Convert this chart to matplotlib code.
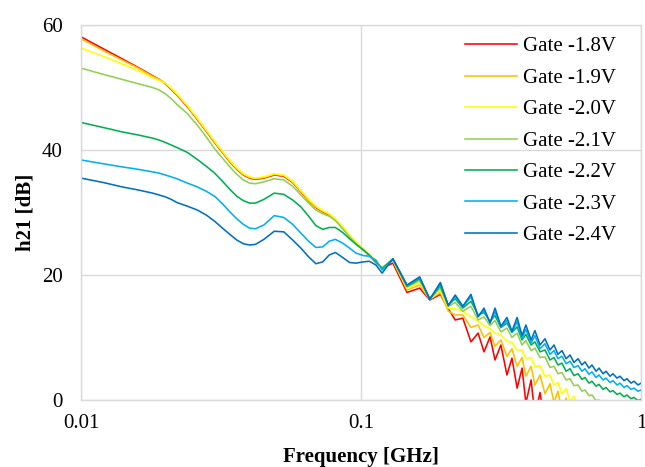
import numpy as np
import matplotlib
matplotlib.use("Agg")
import matplotlib.pyplot as plt

plt.rcParams['font.family'] = ['Liberation Serif', 'DejaVu Serif']

# frequency points [GHz]
freq_ghz = [0.010, 0.012, 0.014, 0.016, 0.018, 0.019, 0.020, 0.021, 0.022, 0.024,
            0.026, 0.028, 0.030, 0.032, 0.034, 0.036, 0.038, 0.040, 0.042, 0.045,
            0.049, 0.053, 0.057, 0.061, 0.065, 0.069, 0.073, 0.077, 0.081, 0.086,
            0.091, 0.096, 0.102, 0.107, 0.113, 0.119,
            0.130, 0.146, 0.162, 0.176, 0.192, 0.205, 0.217, 0.231, 0.247, 0.262,
            0.275, 0.289, 0.301, 0.316, 0.332, 0.346, 0.361, 0.376, 0.388, 0.405,
            0.418, 0.436, 0.454, 0.473, 0.489, 0.505, 0.522, 0.540, 0.558, 0.576,
            0.596, 0.615, 0.631, 0.652, 0.668, 0.691, 0.708, 0.732, 0.750, 0.775,
            0.794, 0.821, 0.841, 0.870, 0.891, 0.921, 0.944, 0.976, 1.000]

# h21 [dB] for each gate bias
h21_18 = [58.1, 56.2, 54.6, 53.2, 51.9, 51.3, 50.6, 49.7, 48.8, 46.9,
          44.9, 43.0, 41.2, 39.6, 38.1, 36.9, 36.0, 35.5, 35.3, 35.5,
          36.0, 35.8, 34.8, 33.3, 31.9, 30.8, 30.1, 29.6, 28.8, 27.5,
          26.2, 25.1, 24.0, 23.1, 22.0, 21.1,
          21.9, 17.2, 17.9, 16.0, 16.9, 14.6, 12.8, 13.1, 9.3, 10.7,
          7.7, 10.1, 6.4, 8.8, 4.0, 6.7, 1.9, 5.1, -0.5, 3.2,
          -2.5, 1.2, -4.5, -1.0, -6.5, -3.0, -8.5, -5.0, -10.5, -7.0,
          -12.5, -9.0, -14.5, -11.0, -16.5, -13.0, -18.5, -15.0, -20.5, -17.0,
          -22.5, -19.0, -24.5, -21.0, -26.5, -23.0, -28.5, -25.0, -30.5]
h21_19 = [57.8, 55.9, 54.4, 53.1, 51.8, 51.3, 50.7, 49.8, 48.9, 47.0,
          45.0, 43.1, 41.3, 39.7, 38.2, 37.0, 36.1, 35.6, 35.4, 35.6,
          36.1, 35.9, 34.9, 33.4, 32.0, 30.9, 30.2, 29.7, 28.9, 27.6,
          26.3, 25.2, 24.1, 23.2, 22.1, 21.1,
          22.3, 17.6, 18.4, 16.1, 17.2, 14.2, 13.6, 13.6, 11.6, 12.0,
          10.0, 10.8, 8.6, 9.6, 7.0, 8.2, 5.4, 6.8, 3.8, 5.4,
          2.4, 4.0, 1.0, 2.6, -0.4, 1.4, -1.8, 0.3, -3.2, -1.5,
          -4.6, -3.0, -6.0, -4.5, -7.4, -6.0, -8.8, -7.5, -10.2, -9.0,
          -11.6, -10.5, -13.0, -12.0, -14.4, -13.5, -15.8, -15.0, -17.2]
h21_20 = [56.3, 55.0, 53.8, 52.7, 51.6, 51.1, 50.7, 49.9, 49.0, 47.1,
          45.1, 43.2, 41.4, 39.8, 38.3, 37.1, 36.2, 35.7, 35.5, 35.7,
          36.2, 36.0, 35.0, 33.5, 32.1, 31.0, 30.3, 29.8, 29.0, 27.7,
          26.4, 25.3, 24.2, 23.3, 22.2, 21.2,
          22.4, 17.9, 18.8, 16.2, 17.5, 14.7, 14.6, 14.2, 13.3, 12.6,
          11.9, 11.4, 10.7, 10.4, 9.4, 9.2, 8.0, 8.0, 6.6, 6.8,
          5.3, 5.5, 3.8, 4.0, 2.4, 2.8, 1.0, 1.8, -0.2, 0.6,
          -1.2, -0.6, -2.4, -1.8, -3.6, -3.0, -4.8, -4.2, -6.0, -5.4,
          -7.2, -6.6, -8.4, -7.8, -9.6, -9.0, -10.8, -10.2, -12.0]
h21_21 = [53.1, 52.1, 51.3, 50.6, 50.0, 49.6, 49.0, 48.2, 47.3, 45.8,
          44.0, 42.1, 40.2, 38.7, 37.3, 36.1, 35.2, 34.7, 34.6, 34.9,
          35.4, 35.2, 34.2, 32.8, 31.5, 30.4, 29.8, 29.4, 28.7, 27.4,
          26.1, 25.0, 24.0, 23.1, 22.0, 21.2,
          22.5, 18.1, 19.1, 16.2, 17.9, 15.0, 15.6, 14.2, 15.0, 12.8,
          13.3, 11.9, 12.7, 10.9, 11.5, 10.0, 10.7, 8.8, 9.5, 7.9,
          8.3, 6.8, 6.9, 5.2, 5.4, 4.2, 4.4, 3.2, 3.4, 2.3,
          2.4, 1.4, 1.6, 0.7, 0.8, -0.1, 0.0, -0.9, -0.8, -1.8,
          -1.6, -2.7, -2.5, -3.6, -3.4, -4.5, -4.3, -5.4, -5.2]
h21_22 = [44.4, 43.6, 42.9, 42.4, 41.9, 41.6, 41.2, 40.8, 40.4, 39.6,
          38.5, 37.4, 36.3, 35.0, 33.7, 32.6, 31.9, 31.5, 31.5, 32.1,
          33.1, 32.9, 32.0, 30.9, 29.4, 27.9, 27.3, 27.6, 27.6, 26.8,
          25.8, 24.9, 24.0, 23.2, 22.1, 21.0,
          22.6, 18.2, 19.4, 16.2, 18.3, 15.2, 16.2, 14.7, 15.8, 13.6,
          14.0, 12.6, 13.5, 11.6, 12.3, 10.8, 11.7, 9.6, 10.5, 8.8,
          9.3, 7.7, 8.0, 6.4, 6.8, 5.6, 5.9, 4.6, 5.0, 3.9,
          4.2, 3.3, 3.6, 2.7, 3.0, 2.2, 2.5, 1.7, 2.0, 1.3,
          1.5, 0.9, 1.1, 0.5, 0.8, 0.2, 0.4, -0.1, 0.1]
h21_23 = [38.4, 37.8, 37.3, 36.9, 36.5, 36.3, 36.0, 35.7, 35.4, 34.7,
          34.1, 33.4, 32.6, 31.4, 30.1, 29.0, 28.1, 27.5, 27.4, 28.0,
          29.5, 29.2, 28.1, 26.7, 25.4, 24.4, 24.5, 25.4, 25.7, 25.1,
          24.3, 23.5, 23.1, 23.0, 22.4, 20.8,
          22.5, 18.3, 19.6, 16.1, 18.6, 15.1, 16.6, 14.9, 16.5, 13.4,
          14.3, 12.4, 14.1, 11.6, 12.7, 10.8, 12.5, 9.9, 11.3, 9.1,
          10.3, 8.2, 9.0, 7.3, 7.9, 6.6, 7.0, 5.8, 6.2, 5.2,
          5.5, 4.6, 5.0, 4.1, 4.5, 3.6, 4.0, 3.2, 3.5, 2.8,
          3.1, 2.4, 2.7, 2.0, 2.3, 1.7, 1.9, 1.4, 1.6]
h21_24 = [35.5, 34.8, 34.1, 33.6, 33.1, 32.8, 32.5, 32.1, 31.6, 31.0,
          30.4, 29.6, 28.6, 27.5, 26.5, 25.6, 25.0, 24.8, 24.9, 25.7,
          27.0, 26.9, 25.6, 24.3, 22.9, 21.8, 22.1, 23.2, 23.6, 22.8,
          22.0, 21.9, 22.1, 22.2, 21.6, 20.3,
          22.6, 18.4, 19.7, 16.1, 18.8, 15.1, 16.8, 15.0, 16.9, 13.3,
          14.7, 12.3, 14.7, 11.8, 13.2, 11.0, 13.2, 10.3, 12.0, 9.6,
          11.1, 8.8, 9.8, 8.0, 8.8, 7.3, 7.9, 6.6, 7.2, 6.0,
          6.6, 5.6, 6.1, 5.1, 5.6, 4.6, 5.1, 4.2, 4.6, 3.8,
          4.2, 3.5, 3.8, 3.1, 3.4, 2.7, 3.0, 2.4, 2.7]

labels = ["Gate -1.8V", "Gate -1.9V", "Gate -2.0V", "Gate -2.1V",
          "Gate -2.2V", "Gate -2.3V", "Gate -2.4V"]
colors = ["#FF0000", "#FFC000", "#FFFF00", "#92D050",
          "#00B050", "#00B0F0", "#0070C0"]
series = [h21_18, h21_19, h21_20, h21_21, h21_22, h21_23, h21_24]

fig = plt.figure(figsize=(6.45, 4.67), dpi=100)
ax = fig.add_axes([0.1256, 0.1435, 0.8682, 0.803])

for vals, lab, col in zip(series, labels, colors):
    ax.plot(freq_ghz, vals, color=col, linewidth=1.15, label=lab)

ax.set_xscale("log")
ax.set_xlim(0.01, 1)
ax.set_ylim(0, 60)
ax.set_xticks([0.01, 0.1, 1])
ax.set_xticklabels(["0.01", "0.1", "1"])
ax.set_yticks([0, 20, 40, 60])
ax.minorticks_off()
ax.tick_params(axis="both", length=0, labelsize=15, colors="#000000")
ax.tick_params(axis="x", pad=10)
ax.tick_params(axis="y", pad=13)

ax.grid(True, color="#d9d9d9", linewidth=1.0)
ax.set_axisbelow(True)
for sp in ax.spines.values():
    sp.set_color("#d9d9d9")
    sp.set_linewidth(1.0)

ax.set_xlabel("Frequency [GHz]", fontsize=15, fontweight="bold", labelpad=10)
ax.set_ylabel("h21 [dB]", fontsize=15, fontweight="bold", labelpad=5)

fig.legend(loc="upper left", bbox_to_anchor=(0.721, 0.921), frameon=False,
           fontsize=15, handlelength=2.5, handletextpad=0.3, labelspacing=0.57,
           borderpad=0, borderaxespad=0)

fig.savefig("out.png", dpi=100)
